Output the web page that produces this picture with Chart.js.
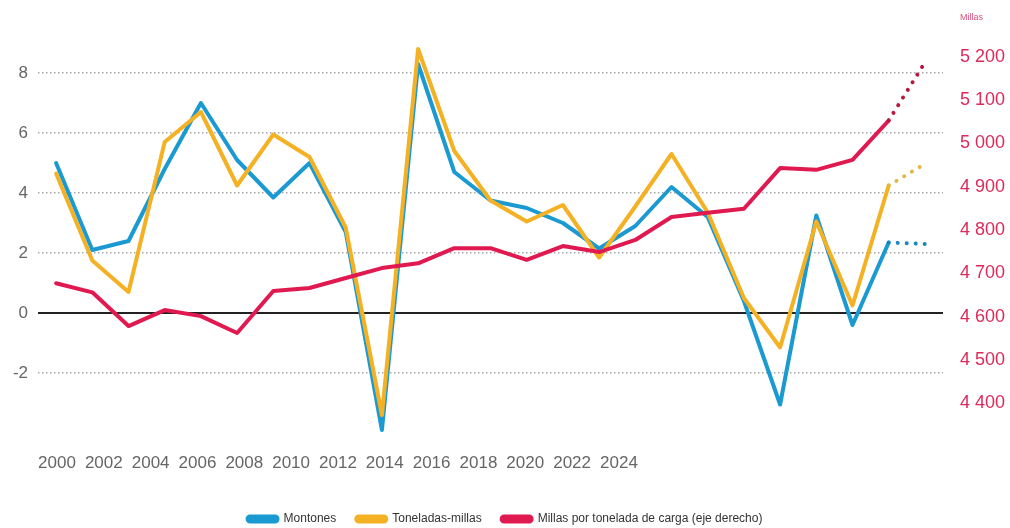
<!DOCTYPE html>
<html>
<head>
<meta charset="utf-8">
<script src="https://cdn.jsdelivr.net/npm/chart.js@4/dist/chart.umd.min.js"></script>
<style>
  html, body { margin: 0; padding: 0; background: #fff; }
  #wrap { width: 1010px; height: 528px; }
</style>
</head>
<body>
<div id="wrap"><canvas id="myChart"></canvas></div>
<script>
// data
const years = [2000, 2001, 2002, 2003, 2004, 2005, 2006, 2007, 2008, 2009, 2010, 2011, 2012,
               2013, 2014, 2015, 2016, 2017, 2018, 2019, 2020, 2021, 2022, 2023, 2024];
const montones = [5.0, 2.1, 2.4, 4.8, 7.0, 5.1, 3.85, 5.0, 2.7, -3.9, 8.3, 4.7, 3.75,
                  3.5, 3.0, 2.15, 2.9, 4.2, 3.2, 0.4, -3.05, 3.25, -0.4, 2.35, 2.3];
const toneladasMillas = [4.65, 1.75, 0.7, 5.7, 6.7, 4.25, 5.95, 5.2, 2.85, -3.4, 8.8, 5.4, 3.75,
                         3.05, 3.6, 1.85, 3.55, 5.3, 3.35, 0.5, -1.15, 3.05, 0.25, 4.25, 4.97];
const millasPorTonelada = [4677, 4656, 4578, 4615, 4601, 4562, 4659, 4666, 4689, 4712, 4723, 4758, 4758,
                           4731, 4763, 4749, 4777, 4830, 4840, 4849, 4943, 4939, 4962, 5053, 5187];
const xTickLabels = [2000, 2002, 2004, 2006, 2008, 2010, 2012, 2014, 2016, 2018, 2020, 2022, 2024];
const leftTicks = [-2, 0, 2, 4, 6, 8];
const rightTicks = [4400, 4500, 4600, 4700, 4800, 4900, 5000, 5100, 5200];

// last segment is a forecast -> dotted
const forecastFrom = 23;

const blue = "#1b9ad2";
const orange = "#f4b124";
const red = "#e01a50";
const font = "'Liberation Sans', Arial, sans-serif";

function dotted(color) {
    return {
        borderDash: ctx => ctx.p0DataIndex >= forecastFrom ? [0.01, 9] : undefined,
        borderColor: ctx => ctx.p0DataIndex >= forecastFrom ? color : undefined
    };
}

function spaced(v) {
    return String(v).replace(/\B(?=(\d{3})+(?!\d))/g, " ");
}

const millasLabel = {
    id: "millasLabel",
    afterDraw(chart) {
        const ctx = chart.ctx;
        ctx.save();
        ctx.font = "9px " + font;
        ctx.fillStyle = "#e0517a";
        ctx.textBaseline = "middle";
        ctx.fillText("Millas", chart.chartArea.right + 17, 18);
        ctx.restore();
    }
};

new Chart("myChart", {
    type: "line",
    data: {
        labels: years,
        datasets: [
            {
                label: "Montones",
                data: montones,
                yAxisID: "y",
                borderColor: blue,
                backgroundColor: blue,
                order: 2,
                segment: dotted("#1a86c0")
            },
            {
                label: "Toneladas-millas",
                data: toneladasMillas,
                yAxisID: "y",
                borderColor: orange,
                backgroundColor: orange,
                order: 1,
                segment: dotted("#e6b545")
            },
            {
                label: "Millas por tonelada de carga (eje derecho)",
                data: millasPorTonelada,
                yAxisID: "y1",
                borderColor: red,
                backgroundColor: red,
                order: 0,
                segment: dotted("#b5173f")
            }
        ]
    },
    options: {
        responsive: true,
        maintainAspectRatio: false,
        animation: false,
        layout: { padding: { left: 0, right: 0, top: 43, bottom: -7 } },
        elements: {
            point: { radius: 0 },
            line: { borderWidth: 4, tension: 0, borderCapStyle: "round", borderJoinStyle: "round" }
        },
        scales: {
            x: {
                type: "category",
                offset: true,
                display: false
            },
            xLab: {
                type: "linear",
                position: "bottom",
                min: 1999.19,
                max: 2037.84,
                afterBuildTicks: axis => { axis.ticks = xTickLabels.map(v => ({ value: v })); },
                afterFit: axis => { axis.height = 60; },
                grid: { display: false, drawTicks: false },
                border: { display: false },
                ticks: {
                    padding: 20,
                    maxRotation: 0,
                    autoSkip: false,
                    color: "#666",
                    font: { family: font, size: 17 },
                    callback: v => String(v)
                }
            },
            y: {
                position: "left",
                min: -4,
                max: 9,
                afterBuildTicks: axis => { axis.ticks = leftTicks.map(v => ({ value: v })); },
                afterFit: axis => { axis.width = 38; },
                border: {
                    display: false,
                    dash: ctx => ctx.tick && ctx.tick.value === 0 ? [] : [1.5, 2.5]
                },
                grid: {
                    drawTicks: false,
                    color: ctx => ctx.tick.value === 0 ? "#222" : "#a8a8a8",
                    lineWidth: ctx => ctx.tick.value === 0 ? 2 : 1.5
                },
                ticks: {
                    padding: 10,
                    color: "#666",
                    font: { family: font, size: 17 }
                }
            },
            y1: {
                position: "right",
                min: 4331,
                max: 5232,
                afterBuildTicks: axis => { axis.ticks = rightTicks.map(v => ({ value: v })); },
                afterFit: axis => { axis.width = 67; },
                border: { display: false },
                grid: { display: false, drawTicks: false },
                ticks: {
                    padding: 17,
                    color: "#dd2a5b",
                    font: { family: font, size: 18 },
                    callback: v => spaced(v)
                }
            }
        },
        plugins: {
            legend: {
                position: "bottom",
                labels: {
                    boxWidth: 30,
                    boxHeight: 5,
                    useBorderRadius: true,
                    borderRadius: 2.5,
                    padding: 20,
                    color: "#333",
                    font: { family: font, size: 12 },
                    sort: (a, b) => a.datasetIndex - b.datasetIndex
                }
            },
            tooltip: { enabled: false }
        }
    },
    plugins: [millasLabel]
});
</script>
</body>
</html>
